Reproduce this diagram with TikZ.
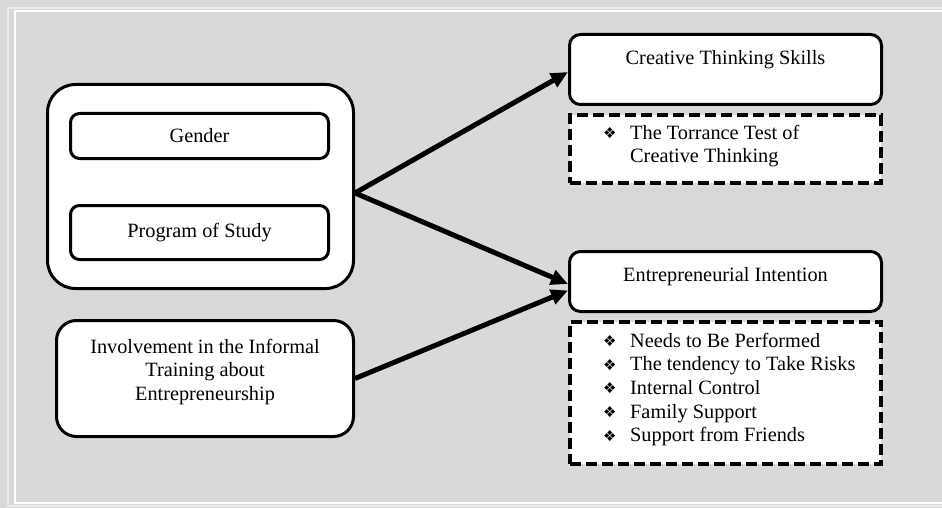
\documentclass[tikz,border=0pt]{standalone}
\usepackage{fontspec}
\setmainfont{Liberation Serif}
\newfontfamily\dejavu{DejaVu Sans}
\usetikzlibrary{arrows.meta}
\definecolor{bg}{HTML}{D9D9D9}
\definecolor{faint}{HTML}{EBEBEB}
\newcommand\bul{\makebox[27pt][l]{\raisebox{0.5pt}{\dejavu\fontsize{15}{15}\selectfont ❖}}}
\begin{document}
\begin{tikzpicture}[x=1pt,y=-1pt,
  txt/.style={font=\fontsize{20.3}{23.6}\selectfont, inner sep=0pt},
  box/.style={draw=black, line width=3pt, fill=white, inner sep=0pt},
  dbox/.style={draw=black, line width=3.5pt, fill=white, dash pattern=on 11pt off 5pt, inner sep=0pt},
  arr/.style={line width=5pt, -{Triangle[length=17pt,width=15pt]}}
]
\fill[bg] (0,0) rectangle (942,508);
\useasboundingbox (0,0) rectangle (942,508);
\draw[faint, line width=1.5pt] (8,8) rectangle (960,506);
\draw[white, line width=2pt] (15,11) rectangle (960,503);

% left group
\node[box, rounded corners=28pt, minimum width=306pt, minimum height=204pt] (grp) at (200.5,186.5) {};
\node[box, rounded corners=9pt, minimum width=258pt, minimum height=45pt, txt] (gen) at (199.5,136) {Gender};
\node[box, rounded corners=9pt, minimum width=258pt, minimum height=54pt, txt] (pos) at (199.5,232.5) {Program of Study};

\node[box, rounded corners=20pt, minimum width=297pt, minimum height=116pt] (inv) at (205,378.5) {};
\node[txt, align=center] (invT) at (205,372) {Involvement in the Informal\\Training about\\Entrepreneurship};

% right side
\node[box, rounded corners=11pt, minimum width=312pt, minimum height=70pt] (cts) at (725.5,69.5) {};
\node[txt] (ctsT) at (725.5,60) {Creative Thinking Skills};
\node[dbox, minimum width=311pt, minimum height=68pt] (ttct) at (725.5,149) {};
\node[txt, align=left, anchor=west] (ttctT) at (603,146) {\bul The Torrance Test of\\\hspace*{27pt}Creative Thinking};

\node[box, rounded corners=11pt, minimum width=312pt, minimum height=60pt] (ent) at (725.5,281.5) {};
\node[txt] (entT) at (725.5,277) {Entrepreneurial Intention};
\node[dbox, minimum width=311pt, minimum height=142pt] (eil) at (725.5,393) {};
\node[txt, align=left, anchor=west] (eilT) at (603,389.5) {\bul Needs to Be Performed\\\bul The tendency to Take Risks\\\bul Internal Control\\\bul Family Support\\\bul Support from Friends};

% arrows
\draw[arr] ([yshift=-6.5pt]grp.east) -- ([yshift=-2.5pt]cts.west);
\draw[arr] ([yshift=-6.5pt]grp.east) -- ([yshift=-2.5pt]ent.west);
\draw[arr] (inv.east) -- ([yshift=-9pt]ent.west);
\end{tikzpicture}
\end{document}
